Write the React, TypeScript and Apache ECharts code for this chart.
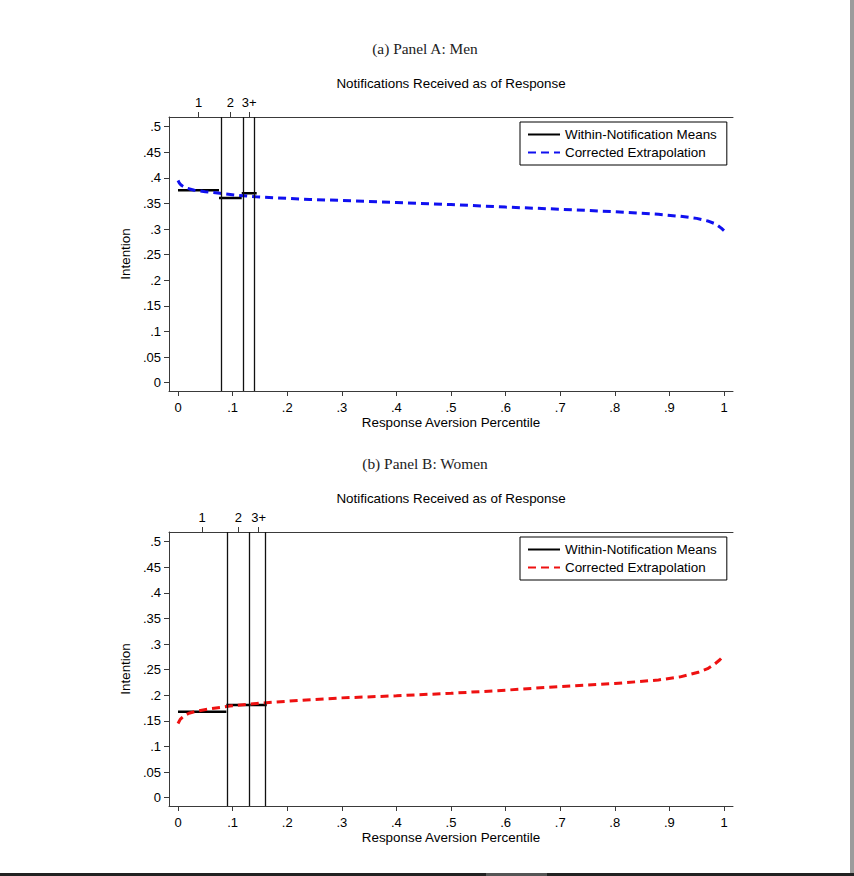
import React, { useEffect, useRef } from "react";
import * as echarts from "echarts";

// ---------- data ----------
const xTickValues = [0, 0.1, 0.2, 0.3, 0.4, 0.5, 0.6, 0.7, 0.8, 0.9, 1];
const xTickLabels = ["0", ".1", ".2", ".3", ".4", ".5", ".6", ".7", ".8", ".9", "1"];
const yTickValues = [0, 0.05, 0.1, 0.15, 0.2, 0.25, 0.3, 0.35, 0.4, 0.45, 0.5];
const yTickLabels = ["0", ".05", ".1", ".15", ".2", ".25", ".3", ".35", ".4", ".45", ".5"];
const notificationLabels = ["1", "2", "3+"];

const menBoundaries = [0, 0.0751, 0.1167, 0.1441];
const menMeans = [0.376, 0.361, 0.37];
const menCurveX = [0, 0.002, 0.004, 0.007, 0.01, 0.016, 0.023, 0.03, 0.04, 0.05, 0.077, 0.11, 0.143, 0.2, 0.241, 0.3, 0.4, 0.5, 0.6, 0.697, 0.8, 0.88, 0.92, 0.95, 0.97, 0.985, 0.995, 1];
const menCurveY = [0.395, 0.391, 0.388, 0.385, 0.383, 0.38, 0.378, 0.376, 0.3745, 0.373, 0.37, 0.366, 0.363, 0.36, 0.358, 0.356, 0.352, 0.348, 0.343, 0.339, 0.334, 0.329, 0.325, 0.321, 0.316, 0.31, 0.302, 0.297];

const womenBoundaries = [0, 0.0886, 0.1326, 0.1625];
const womenMeans = [0.168, 0.181, 0.181];
const womenCurveX = [0, 0.002, 0.004, 0.008, 0.0128, 0.02, 0.034, 0.06, 0.095, 0.155, 0.235, 0.3, 0.4, 0.5, 0.6, 0.697, 0.8, 0.88, 0.92, 0.953, 0.97, 0.983, 0.992, 1];
const womenCurveY = [0.145, 0.149, 0.153, 0.157, 0.161, 0.165, 0.169, 0.174, 0.179, 0.185, 0.191, 0.195, 0.199, 0.204, 0.21, 0.217, 0.223, 0.23, 0.236, 0.245, 0.252, 0.261, 0.269, 0.278];

const MEANS_NAME = "Within-Notification Means";
const CURVE_NAME = "Corrected Extrapolation";

const SANS = "'Liberation Sans', Arial, sans-serif";
const SERIF = "'Liberation Serif', 'Times New Roman', serif";
const AXIS_COLOR = "#3a3a3a";
const FS = 13.4;

function lookupLabel(values: number[], labels: string[], v: number): string {
  const i = values.findIndex((t) => Math.abs(t - v) < 1e-6);
  return i >= 0 ? labels[i] : "";
}

function buildOption(
  panelTitle: string,
  boundaries: number[],
  means: number[],
  curveX: number[],
  curveY: number[],
  color: string
) {
  const mids = notificationLabels.map((_, i) => (boundaries[i] + boundaries[i + 1]) / 2);
  const meanSeries = means.map((m, i) => ({
    name: MEANS_NAME,
    type: "line",
    xAxisIndex: 0,
    yAxisIndex: 0,
    data: [
      [boundaries[i], m],
      [boundaries[i + 1], m],
    ],
    symbol: "none",
    showSymbol: false,
    lineStyle: { color: "#000", width: 2.5, type: "solid" },
    itemStyle: { color: "#000" },
    z: 3,
    ...(i === 0
      ? {
          markLine: {
            silent: true,
            symbol: "none",
            label: { show: false },
            lineStyle: { color: "#111", width: 1.3, type: "solid" },
            data: boundaries.slice(1).map((b) => ({ xAxis: b })),
          },
        }
      : {}),
  }));

  return {
    animation: false,
    textStyle: { fontFamily: SANS },
    graphic: [
      {
        type: "text",
        x: 425,
        y: 48,
        style: {
          text: panelTitle,
          font: `15.4px ${SERIF}`,
          fill: "#222",
          textAlign: "center",
          textVerticalAlign: "middle",
        },
      },
    ],
    legend: {
      show: true,
      orient: "vertical",
      left: 520,
      top: 122,
      padding: [6, 10, 6, 7],
      itemGap: 5,
      itemWidth: 32,
      itemHeight: 14,
      borderColor: "#000",
      borderWidth: 1,
      selectedMode: false,
      itemStyle: { opacity: 0 },
      data: [MEANS_NAME, CURVE_NAME],
      textStyle: { fontSize: FS, color: "#000", fontFamily: SANS },
    },
    grid: { left: 169, right: 121, top: 117, height: 274, containLabel: false, outerBoundsMode: "none" },
    xAxis: [
      {
        type: "value",
        position: "bottom",
        min: -0.0165,
        max: 1.0165,
        name: "Response Aversion Percentile",
        nameLocation: "middle",
        nameGap: 25,
        nameMoveOverlap: false,
        nameTextStyle: { fontSize: FS, color: "#000", fontFamily: SANS },
        axisLine: { show: true, onZero: false, lineStyle: { color: AXIS_COLOR, width: 1 } },
        axisTick: { show: true, length: 5, customValues: xTickValues, lineStyle: { color: AXIS_COLOR } },
        axisLabel: {
          show: true,
          margin: 10,
          fontSize: 13,
          color: "#000",
          fontFamily: SANS,
          customValues: xTickValues,
          formatter: (v: number) => lookupLabel(xTickValues, xTickLabels, v),
        },
        splitLine: { show: false },
      },
      {
        type: "value",
        position: "top",
        min: -0.0165,
        max: 1.0165,
        name: "Notifications Received as of Response",
        nameLocation: "middle",
        nameGap: 27,
        nameMoveOverlap: false,
        nameTextStyle: { fontSize: FS, color: "#000", fontFamily: SANS },
        axisLine: { show: true, onZero: false, lineStyle: { color: AXIS_COLOR, width: 1 } },
        axisTick: { show: true, length: 5, customValues: mids, lineStyle: { color: AXIS_COLOR } },
        axisLabel: {
          show: true,
          margin: 8,
          fontSize: 13,
          color: "#000",
          fontFamily: SANS,
          customValues: mids,
          formatter: (v: number) => {
            const i = mids.findIndex((t) => Math.abs(t - v) < 1e-6);
            return i >= 0 ? notificationLabels[i] : "";
          },
        },
        splitLine: { show: false },
      },
    ],
    yAxis: [
      {
        type: "value",
        min: -0.0162,
        max: 0.519,
        name: "Intention",
        nameLocation: "middle",
        nameGap: 37,
        nameMoveOverlap: false,
        nameTextStyle: { fontSize: FS, color: "#000", fontFamily: SANS },
        axisLine: { show: true, onZero: false, lineStyle: { color: AXIS_COLOR, width: 1 } },
        axisTick: { show: true, length: 5, customValues: yTickValues, lineStyle: { color: AXIS_COLOR } },
        axisLabel: {
          show: true,
          margin: 8,
          fontSize: 13,
          color: "#000",
          fontFamily: SANS,
          customValues: yTickValues,
          formatter: (v: number) => lookupLabel(yTickValues, yTickLabels, v),
        },
        splitLine: { show: false },
      },
    ],
    series: [
      ...meanSeries,
      {
        name: CURVE_NAME,
        type: "line",
        xAxisIndex: 0,
        yAxisIndex: 0,
        data: curveX.map((x, i) => [x, curveY[i]]),
        symbol: "none",
        showSymbol: false,
        smooth: false,
        lineStyle: { color, width: 3, type: [8, 5] },
        itemStyle: { color },
        z: 4,
      },
    ],
  };
}

function Chart(props: { option: any; top: number; height: number }) {
  const ref = useRef<HTMLDivElement>(null);
  useEffect(() => {
    if (!ref.current) return;
    const chart = echarts.init(ref.current, undefined, { renderer: "svg" });
    chart.setOption(props.option);
    return () => chart.dispose();
  }, []);
  return (
    <div
      ref={ref}
      style={{ position: "absolute", left: 0, top: props.top, width: 854, height: props.height }}
    />
  );
}

export default function App() {
  const menOption = buildOption("(a) Panel A: Men", menBoundaries, menMeans, menCurveX, menCurveY, "#1010f0");
  const womenOption = buildOption("(b) Panel B: Women", womenBoundaries, womenMeans, womenCurveX, womenCurveY, "#ee1111");
  return (
    <div style={{ position: "fixed", left: 0, top: 0, width: 854, height: 876, background: "#fff", overflow: "hidden" }}>
      <Chart option={menOption} top={0} height={440} />
      <Chart option={womenOption} top={415} height={458} />
      <div style={{ position: "absolute", left: 850, top: 0, width: 4, height: 876, background: "#9c9c9c" }} />
      <div style={{ position: "absolute", left: 0, top: 873, width: 854, height: 3, background: "#222" }} />
      <div style={{ position: "absolute", left: 486, top: 873, width: 61, height: 3, background: "#555" }} />
    </div>
  );
}
